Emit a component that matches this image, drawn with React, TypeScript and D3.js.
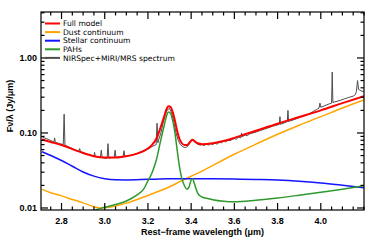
import React, { useEffect, useRef } from "react";
import * as d3 from "d3";

// tick values / labels
const xTicks = [2.8, 3.0, 3.2, 3.4, 3.6, 3.8, 4.0];
const yTicks = [0.01, 0.1, 1];
const yTickLabels = ["0.01", "0.10", "1.00"];

// legend
const legendLabels = ["Full model", "Dust continuum", "Stellar continuum", "PAHs", "NIRSpec+MIRI/MRS spectrum"];
const legendColors = ["#ff0000", "#ffa500", "#1414ff", "#2e9a2e", "#4d4d4d"];

// full model (red)
const fullWave = [2.71, 2.75, 2.8, 2.85, 2.9, 2.95, 3.0, 3.05, 3.1, 3.15, 3.2, 3.22, 3.24, 3.26, 3.275, 3.285, 3.295, 3.305, 3.315, 3.325, 3.335, 3.345, 3.355, 3.37, 3.38, 3.39, 3.4, 3.407, 3.415, 3.43, 3.45, 3.5, 3.55, 3.6, 3.65, 3.7, 3.8, 3.9, 4.0, 4.1, 4.2];
const fullModel = [0.082, 0.076, 0.069, 0.061, 0.054, 0.049, 0.047, 0.047, 0.049, 0.053, 0.062, 0.07, 0.085, 0.122, 0.165, 0.205, 0.228, 0.222, 0.188, 0.145, 0.107, 0.085, 0.074, 0.069, 0.069, 0.073, 0.079, 0.081, 0.078, 0.073, 0.071, 0.073, 0.078, 0.086, 0.096, 0.107, 0.133, 0.163, 0.2, 0.25, 0.31];

// dust continuum (orange)
const dustWave = [2.71, 2.75, 2.8, 2.85, 2.9, 2.95, 2.98, 3.0, 3.05, 3.1, 3.15, 3.2, 3.25, 3.3, 3.35, 3.4, 3.45, 3.5, 3.55, 3.6, 3.7, 3.8, 3.9, 4.0, 4.1, 4.2];
const dustCont = [0.0177, 0.016, 0.0145, 0.013, 0.0117, 0.0104, 0.01, 0.0101, 0.0106, 0.0116, 0.013, 0.0147, 0.0167, 0.0192, 0.0226, 0.0265, 0.031, 0.037, 0.044, 0.052, 0.071, 0.096, 0.127, 0.165, 0.215, 0.275];

// stellar continuum (blue)
const starWave = [2.71, 2.75, 2.8, 2.85, 2.9, 2.95, 3.0, 3.05, 3.1, 3.2, 3.3, 3.4, 3.5, 3.6, 3.7, 3.8, 3.9, 4.0, 4.1, 4.2];
const starCont = [0.0563, 0.05, 0.043, 0.036, 0.0302, 0.0266, 0.0246, 0.0238, 0.0237, 0.0241, 0.0245, 0.0246, 0.0245, 0.0243, 0.024, 0.0236, 0.0228, 0.0216, 0.0201, 0.0186];

// PAH features (green)
const pahWave = [2.9, 2.95, 3.0, 3.05, 3.1, 3.15, 3.18, 3.2, 3.22, 3.24, 3.26, 3.275, 3.285, 3.295, 3.305, 3.315, 3.325, 3.335, 3.345, 3.355, 3.37, 3.38, 3.39, 3.4, 3.407, 3.415, 3.43, 3.45, 3.48, 3.5, 3.55, 3.6, 3.7, 3.8, 3.9, 4.0, 4.1, 4.2];
const pahFlux = [0.0078, 0.0093, 0.0102, 0.0111, 0.0124, 0.015, 0.0178, 0.023, 0.03, 0.045, 0.082, 0.125, 0.165, 0.19, 0.182, 0.145, 0.1, 0.06, 0.037, 0.026, 0.0195, 0.0178, 0.019, 0.0235, 0.0245, 0.021, 0.0158, 0.014, 0.0133, 0.0129, 0.0123, 0.0121, 0.0127, 0.0136, 0.0148, 0.0162, 0.0178, 0.0198];

// observed spectrum (grey)
const specWave = [2.705, 2.71, 2.72, 2.73, 2.74, 2.75, 2.76, 2.765, 2.768, 2.771, 2.78, 2.79, 2.8, 2.808, 2.812, 2.816, 2.82, 2.83, 2.84, 2.85, 2.86, 2.87, 2.88, 2.884, 2.888, 2.9, 2.91, 2.92, 2.93, 2.94, 2.95, 2.953, 2.956, 2.97, 2.98, 2.984, 2.988, 3.0, 3.011, 3.015, 3.019, 3.03, 3.044, 3.048, 3.052, 3.06, 3.07, 3.085, 3.089, 3.093, 3.1, 3.12, 3.14, 3.16, 3.18, 3.2, 3.22, 3.238, 3.242, 3.246, 3.25, 3.26, 3.27, 3.28, 3.29, 3.3, 3.31, 3.32, 3.33, 3.34, 3.35, 3.36, 3.37, 3.38, 3.39, 3.4, 3.405, 3.41, 3.42, 3.43, 3.44, 3.45, 3.46, 3.47, 3.48, 3.49, 3.5, 3.51, 3.52, 3.53, 3.54, 3.55, 3.56, 3.57, 3.58, 3.59, 3.6, 3.61, 3.62, 3.63, 3.633, 3.636, 3.65, 3.66, 3.67, 3.68, 3.7, 3.72, 3.74, 3.76, 3.78, 3.79, 3.808, 3.811, 3.814, 3.82, 3.83, 3.84, 3.845, 3.848, 3.851, 3.86, 3.88, 3.9, 3.92, 3.94, 3.96, 3.98, 3.992, 3.996, 4.0, 4.02, 4.04, 4.05, 4.053, 4.056, 4.07, 4.09, 4.11, 4.13, 4.15, 4.16, 4.165, 4.17, 4.175, 4.19, 4.2];
const specFlux = [0.09, 0.089, 0.086, 0.084, 0.082, 0.079, 0.077, 0.076, 0.086, 0.075, 0.074, 0.072, 0.071, 0.07, 0.178, 0.069, 0.068, 0.066, 0.064, 0.062, 0.06, 0.058, 0.057, 0.062, 0.056, 0.055, 0.053, 0.052, 0.051, 0.05, 0.049, 0.055, 0.049, 0.048, 0.047, 0.059, 0.047, 0.046, 0.046, 0.072, 0.046, 0.047, 0.047, 0.059, 0.047, 0.048, 0.048, 0.048, 0.058, 0.048, 0.049, 0.05, 0.052, 0.055, 0.058, 0.061, 0.066, 0.07, 0.135, 0.074, 0.082, 0.1, 0.135, 0.175, 0.205, 0.212, 0.185, 0.14, 0.1, 0.08, 0.07, 0.066, 0.064, 0.065, 0.07, 0.08, 0.083, 0.08, 0.074, 0.071, 0.069, 0.07, 0.068, 0.071, 0.069, 0.072, 0.07, 0.073, 0.071, 0.075, 0.074, 0.078, 0.076, 0.08, 0.079, 0.082, 0.084, 0.083, 0.088, 0.086, 0.1, 0.089, 0.094, 0.092, 0.097, 0.099, 0.103, 0.108, 0.113, 0.118, 0.124, 0.126, 0.13, 0.165, 0.13, 0.133, 0.136, 0.14, 0.141, 0.2, 0.142, 0.145, 0.152, 0.16, 0.168, 0.177, 0.19, 0.205, 0.215, 0.25, 0.22, 0.232, 0.245, 0.25, 0.65, 0.255, 0.262, 0.272, 0.285, 0.298, 0.31, 0.325, 0.36, 0.5, 0.38, 0.36, 0.36];

const App = () => {
  const ref = useRef<SVGSVGElement>(null);

  useEffect(() => {
    drawChart();
  }, []);

  const drawChart = () => {
    const width = 373,
      height = 242;
    const margin = { top: 12, right: 9, bottom: 32, left: 41 };
    const x0 = margin.left,
      x1 = width - margin.right,
      y0 = height - margin.bottom,
      y1 = margin.top;

    const svg = d3.select(ref.current);
    svg.selectAll("*").remove();

    const x = d3.scaleLinear().domain([2.705, 4.2]).range([x0, x1]);
    const y = d3.scaleLog().domain([0.0094, 4.1]).range([y0, y1]);

    svg
      .append("defs")
      .append("clipPath")
      .attr("id", "plot-clip")
      .append("rect")
      .attr("x", x0)
      .attr("y", y1)
      .attr("width", x1 - x0)
      .attr("height", y0 - y1);

    const plot = svg.append("g").attr("clip-path", "url(#plot-clip)");

    const line = (curve) =>
      d3
        .line<[number, number]>()
        .x((d) => x(d[0]))
        .y((d) => y(d[1]))
        .curve(curve);

    const zip = (a: number[], b: number[]) => a.map((v, i) => [v, b[i]] as [number, number]);

    // spectrum
    plot
      .append("path")
      .attr("d", line(d3.curveLinear)(zip(specWave, specFlux)))
      .attr("fill", "none")
      .attr("stroke", legendColors[4])
      .attr("stroke-width", 1);

    const models = [
      { w: fullWave, v: fullModel, c: legendColors[0], sw: 2 },
      { w: dustWave, v: dustCont, c: legendColors[1], sw: 1.5 },
      { w: starWave, v: starCont, c: legendColors[2], sw: 1.5 },
      { w: pahWave, v: pahFlux, c: legendColors[3], sw: 1.5 },
    ];

    models.forEach((m) => {
      plot
        .append("path")
        .attr("d", line(d3.curveMonotoneX)(zip(m.w, m.v)))
        .attr("fill", "none")
        .attr("stroke", m.c)
        .attr("stroke-width", m.sw);
    });

    // frame
    const axes = svg.append("g").attr("stroke", "#000").attr("stroke-width", 1.2);
    axes
      .append("rect")
      .attr("x", x0)
      .attr("y", y1)
      .attr("width", x1 - x0)
      .attr("height", y0 - y1)
      .attr("fill", "none");

    // x ticks (inward, bottom and top)
    const xMinor = d3.range(2.75, 4.2, 0.05);
    xMinor.forEach((t) => {
      const major = xTicks.some((m) => Math.abs(m - t) < 1e-6);
      const len = major ? 7 : 3.5;
      const px = x(t);
      axes.append("line").attr("x1", px).attr("x2", px).attr("y1", y0).attr("y2", y0 - len);
      axes.append("line").attr("x1", px).attr("x2", px).attr("y1", y1).attr("y2", y1 + len);
    });

    // y ticks (inward, left and right)
    const [yLo, yHi] = y.domain();
    [0.001, 0.01, 0.1, 1].forEach((dec) => {
      d3.range(1, 10).forEach((k) => {
        const v = dec * k;
        if (v < yLo || v > yHi) return;
        const len = k === 1 ? 7 : 3.5;
        const py = y(v);
        axes.append("line").attr("x1", x0).attr("x2", x0 + len).attr("y1", py).attr("y2", py);
        axes.append("line").attr("x1", x1).attr("x2", x1 - len).attr("y1", py).attr("y2", py);
      });
    });

    const font = "'Liberation Sans', Arial, sans-serif";

    svg
      .append("g")
      .selectAll("text")
      .data(xTicks)
      .join("text")
      .attr("x", (d) => x(d))
      .attr("y", 223.5)
      .attr("text-anchor", "middle")
      .attr("font-family", font)
      .attr("font-size", 9)
      .attr("font-weight", "bold")
      .text((d) => d.toFixed(1));

    svg
      .append("g")
      .selectAll("text")
      .data(yTicks)
      .join("text")
      .attr("x", x0 - 4)
      .attr("y", (d) => y(d))
      .attr("dy", "0.35em")
      .attr("text-anchor", "end")
      .attr("font-family", font)
      .attr("font-size", 9)
      .attr("font-weight", "bold")
      .text((d, i) => yTickLabels[i]);

    svg
      .append("text")
      .attr("x", (x0 + x1) / 2)
      .attr("y", 235)
      .attr("text-anchor", "middle")
      .attr("font-family", font)
      .attr("font-size", 9)
      .attr("font-weight", "bold")
      .text("Rest\u2212frame wavelength (\u03bcm)");

    svg
      .append("text")
      .attr("transform", "translate(13,106) rotate(-90)")
      .attr("text-anchor", "middle")
      .attr("font-family", font)
      .attr("font-size", 9)
      .attr("font-weight", "bold")
      .text("F\u03bd/\u03bb (Jy/\u03bcm)");

    // legend
    const legend = svg
      .append("g")
      .selectAll("g")
      .data(legendLabels)
      .join("g")
      .attr("transform", (d, i) => `translate(45,${23.5 + i * 8.6})`);

    legend
      .append("line")
      .attr("x1", 0)
      .attr("x2", 15)
      .attr("stroke", (d, i) => legendColors[i])
      .attr("stroke-width", 2);

    legend
      .append("text")
      .attr("x", 18)
      .attr("dy", "0.35em")
      .attr("font-family", "'DejaVu Sans', sans-serif")
      .attr("font-size", 7.6)
      .text((d) => d);
  };

  return (
    <svg
      ref={ref}
      width={373}
      height={242}
      style={{ position: "absolute", left: 0, top: 0, background: "#fff" }}
    />
  );
};

export default App;
